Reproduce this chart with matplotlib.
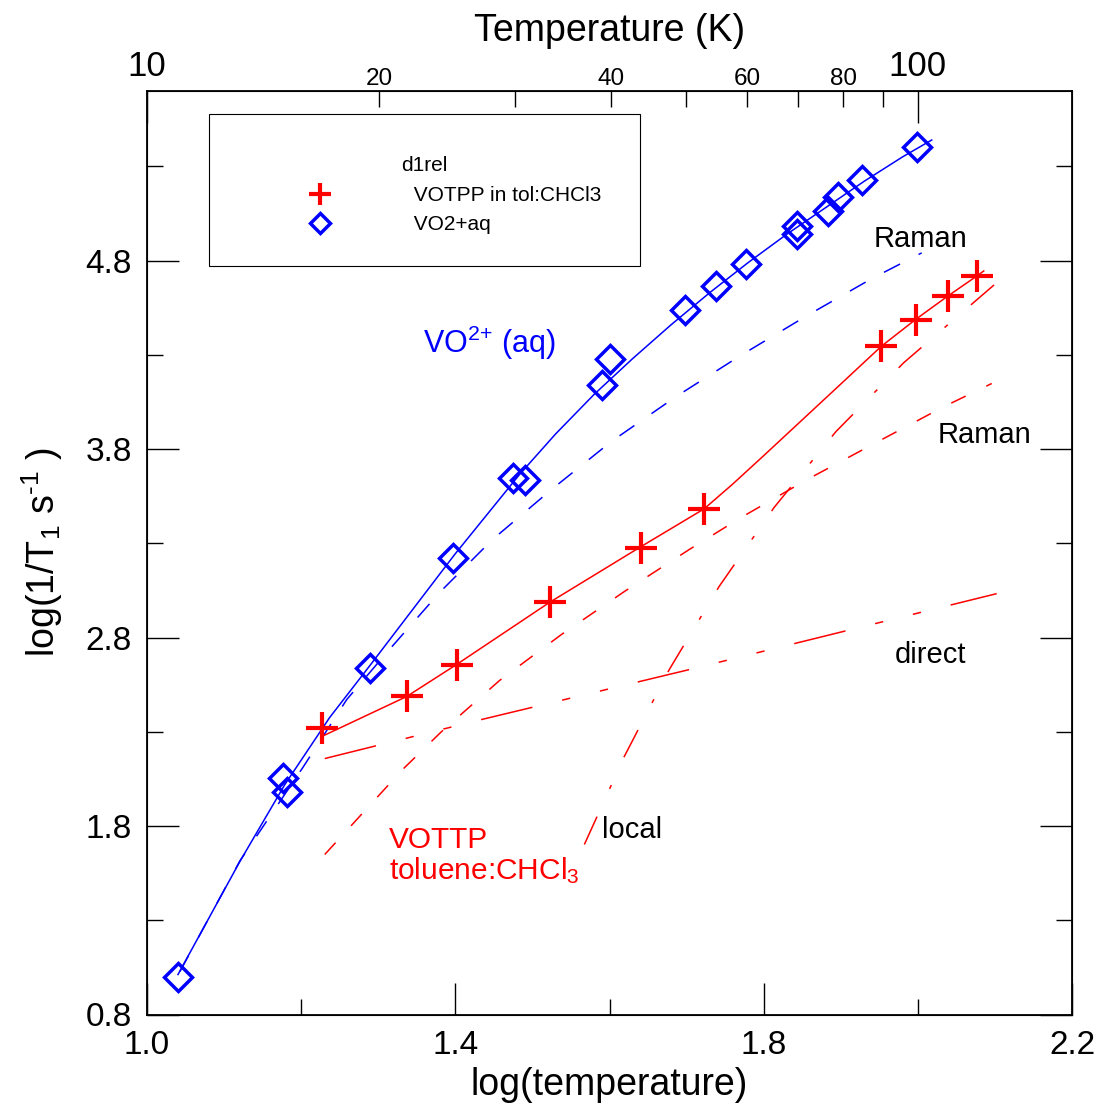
import numpy as np
import matplotlib
matplotlib.use('Agg')
from matplotlib import pyplot as plt
from matplotlib.patches import Rectangle

plt.rcParams['font.family'] = ['Liberation Sans', 'DejaVu Sans']
plt.rcParams['mathtext.fontset'] = 'custom'
plt.rcParams['mathtext.rm'] = 'Liberation Sans'
plt.rcParams['mathtext.default'] = 'regular'
plt.rcParams['lines.scale_dashes'] = False

# measured points, log(T) vs log(1/T1)
votpp_x = [1.2276, 1.3372, 1.4025, 1.5229, 1.6408, 1.7228, 1.9525, 1.9978, 2.0389, 2.0768]
votpp_y = [2.321, 2.489, 2.657, 2.987, 3.276, 3.483, 4.345, 4.487, 4.611, 4.720]

vo2_x = [1.0405, 1.1758, 1.1817, 1.2889, 1.3968, 1.4754, 1.4905, 1.5898, 1.6010,
         1.6982, 1.7387, 1.7768, 1.8436, 1.8436, 1.8838, 1.8964, 1.9278, 1.9983]
vo2_y = [0.998, 2.056, 1.981, 2.639, 3.223, 3.647, 3.638, 4.142, 4.279,
         4.540, 4.664, 4.781, 4.986, 4.942, 5.062, 5.136, 5.226, 5.403]

# fit curves
vo2_fit_x = [1.0402, 1.1205, 1.1788, 1.2370, 1.2902, 1.3990, 1.4832, 1.53, 1.58, 1.63,
             1.68, 1.73, 1.78, 1.83, 1.88, 1.93, 1.98, 2.018]
vo2_fit_y = [1.012, 1.612, 2.020, 2.376, 2.657, 3.240, 3.665, 3.88, 4.09, 4.28,
             4.46, 4.63, 4.79, 4.94, 5.08, 5.22, 5.35, 5.44]

vo2_raman_x = [1.0427, 1.1205, 1.2021, 1.2591, 1.3122, 1.3795, 1.4482, 1.5246, 1.6023,
               1.6865, 1.7707, 1.8549, 1.9404, 2.0050]
vo2_raman_y = [1.028, 1.615, 2.110, 2.471, 2.726, 3.039, 3.320, 3.585, 3.840,
               4.079, 4.298, 4.505, 4.705, 4.841]

votpp_fit_x = [1.2267, 1.3368, 1.4016, 1.5220, 1.6386, 1.7228, 1.76, 1.80, 1.85, 1.90,
               1.9525, 1.9978, 2.0389, 2.0764, 2.0855]
votpp_fit_y = [2.275, 2.487, 2.657, 2.986, 3.277, 3.483, 3.615, 3.765, 3.955, 4.145,
               4.345, 4.490, 4.612, 4.718, 4.745]

votpp_raman_x = [1.2306, 1.3316, 1.3821, 1.4573, 1.5376, 1.6192, 1.7034, 1.7707,
                 1.8562, 1.9456, 2.0337, 2.0959]
votpp_raman_y = [1.649, 2.100, 2.301, 2.572, 2.816, 3.044, 3.267, 3.437,
                 3.638, 3.834, 4.025, 4.148]

votpp_direct_x = [1.2306, 1.4339, 1.7034, 1.9080, 2.1023]
votpp_direct_y = [2.158, 2.365, 2.630, 2.837, 3.033]

votpp_local_x = [1.5674, 1.6192, 1.6775, 1.7422, 1.8135, 1.8938, 1.9819, 2.1023]
votpp_local_y = [1.702, 2.169, 2.630, 3.071, 3.490, 3.893, 4.259, 4.683]

# axis ticks
x_major = [1.0, 1.4, 1.8, 2.2]
x_minor = [1.2, 1.6, 2.0]
y_major = [0.8, 1.8, 2.8, 3.8, 4.8]
y_minor = [1.3, 2.3, 3.3, 4.3, 5.3]
temp_major = [10, 100]
temp_minor = [20, 30, 40, 50, 60, 70, 80, 90]
temp_minor_labels = ['20', '', '40', '', '60', '', '80', '']

red = '#ff0000'
blue = '#0000ff'

fig = plt.figure(figsize=(10.99, 11.08), dpi=100)
ax = fig.add_axes([147/1099, 1 - 1014.5/1108, 925/1099, 923.5/1108])

# fit lines
ax.plot(vo2_fit_x, vo2_fit_y, color=blue, lw=1.1)
ax.plot(vo2_raman_x, vo2_raman_y, color=blue, lw=1.1, dashes=(13, 15))
ax.plot(votpp_fit_x, votpp_fit_y, color=red, lw=1.1)
ax.plot(votpp_raman_x, votpp_raman_y, color=red, lw=1.1, dashes=(11.5, 16.5))
ax.plot(votpp_direct_x, votpp_direct_y, color=red, lw=1.1, dashes=(38, 22, 6, 22, 6, 22))
ax.plot(votpp_local_x, votpp_local_y, color=red, lw=1.1, dashes=(22, 22, 3, 22))

# data points
ax.plot(votpp_x, votpp_y, ls='none', marker='+', ms=23, mew=3, color=red,
        label=' VOTPP in tol:CHCl3')
ax.plot(vo2_x, vo2_y, ls='none', marker='D', ms=14.5, mew=2.5, mfc='none', mec=blue,
        label=' VO2+aq')

ax.set_xlim(1.0, 2.2)
ax.set_ylim(0.8, 5.7)

ax.set_xticks(x_major)
ax.set_xticks(x_minor, minor=True)
ax.set_xticklabels(['1.0', '1.4', '1.8', '2.2'])
ax.set_yticks(y_major)
ax.set_yticks(y_minor, minor=True)
ax.set_yticklabels(['0.8', '1.8', '2.8', '3.8', '4.8'])
ax.tick_params(which='both', direction='in', top=False, right=True, width=1)
ax.tick_params(which='major', length=23, labelsize=24, pad=11)
ax.tick_params(which='minor', length=11.5)
for s in ax.spines.values():
    s.set_linewidth(1.3)

ax.set_xlabel('log(temperature)', fontsize=27)
ax.xaxis.set_label_coords(0.5, -0.057)
ax.set_ylabel('log(1/T$_1$ s$^{\u2010 1}$ )', fontsize=27)
ax.yaxis.set_label_coords(-0.089, 0.5)

# temperature axis on top
ax2 = ax.twiny()
ax2.set_xlim(ax.get_xlim())
ax2.set_xticks(np.log10(temp_major))
ax2.set_xticklabels([str(t) for t in temp_major])
ax2.set_xticks(np.log10(temp_minor), minor=True)
ax2.set_xticklabels(temp_minor_labels, minor=True)
ax2.tick_params(which='both', direction='in', width=1)
ax2.tick_params(which='major', length=23, labelsize=25, pad=6)
ax2.tick_params(which='minor', length=11.5, labelsize=17.5, pad=1)
ax2.set_xlabel('Temperature (K)', fontsize=27)
ax2.xaxis.set_label_coords(0.5, 1.054)

# labels on the curves
ax.text(2.003, 4.915, 'Raman', fontsize=21, ha='center', va='center')
ax.text(2.087, 3.876, 'Raman', fontsize=21, ha='center', va='center')
ax.text(2.016, 2.708, 'direct', fontsize=21, ha='center', va='center')
ax.text(1.590, 1.781, 'local', fontsize=21, ha='left', va='center')
ax.text(1.3575, 4.312, r'VO$^{2{+}}$ (aq)', fontsize=22, color=blue, ha='left', va='baseline')
ax.text(1.314, 1.686, 'VOTTP', fontsize=21.5, color=red, ha='left', va='baseline')
ax.text(1.314, 1.516, r'toluene:CHCl$_3$', fontsize=21.5, color=red, ha='left', va='baseline')

# legend box drawn separately so the title can sit lower in it
ax.add_patch(Rectangle((0.067, 0.8105), 0.466, 0.1646, transform=ax.transAxes,
                       fill=False, edgecolor='black', lw=0.8, zorder=5))
leg = ax.legend(loc='upper left', bbox_to_anchor=(0.067, 0.9675, 0.466, 0), mode='expand',
                borderaxespad=0, title='d1rel', title_fontsize=15, fontsize=15,
                borderpad=1.7, handlelength=7.27, handletextpad=0.6, labelspacing=0.5,
                markerscale=0.72, frameon=False)

plt.savefig('out.png', dpi=100)
